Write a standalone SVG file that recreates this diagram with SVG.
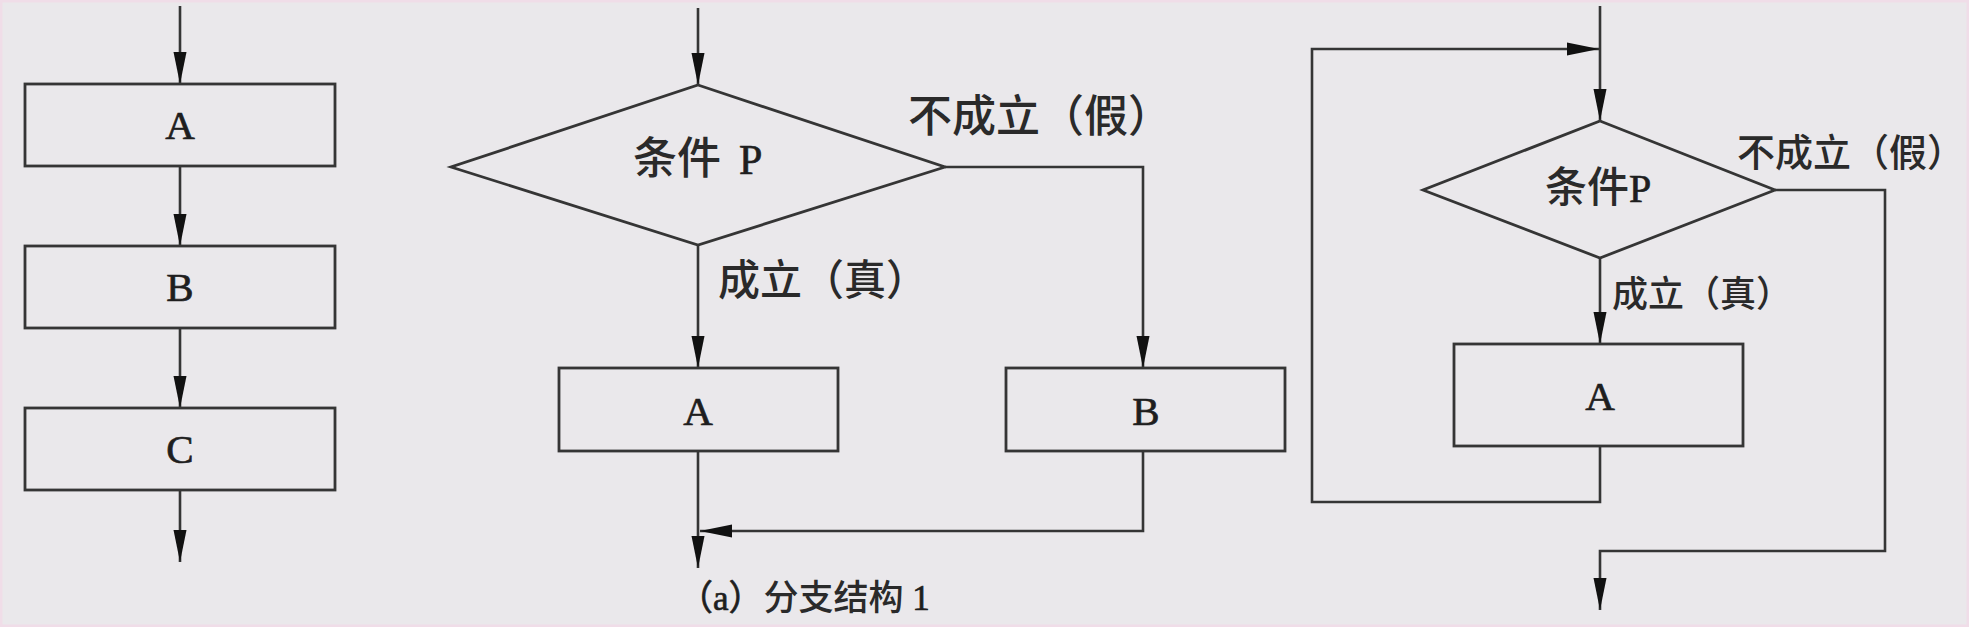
<svg xmlns="http://www.w3.org/2000/svg" width="1969" height="627" viewBox="0 0 1969 627">
<style>
.bg{fill:#eae8eb}
.box{fill:none;stroke:#353535;stroke-width:2.8}
.ln{fill:none;stroke:#353535;stroke-width:2.6}
.lt{font-family:"Liberation Serif","Noto Sans CJK SC",serif;fill:#1e1e1e;stroke:#1e1e1e;stroke-width:0.7}
.cj{font-family:"Noto Sans CJK SC","Liberation Serif",sans-serif;fill:#2a2a2a;font-weight:500;stroke:none}
</style>
<defs>
<marker id="ah" markerUnits="userSpaceOnUse" markerWidth="34" markerHeight="16" refX="32" refY="7" orient="auto">
<path d="M0,0.5 L32,7 L0,13.5 Z" fill="#111"/>
</marker>
</defs>
<rect class="bg" x="0" y="0" width="1969" height="627"/>
<rect x="1" y="1" width="1967" height="625" fill="none" stroke="#f0dde8" stroke-width="3"/>

<g id="connectors">
<path class="ln" d="M180,6 L180,84" marker-end="url(#ah)"/>
<path class="ln" d="M180,166 L180,246" marker-end="url(#ah)"/>
<path class="ln" d="M180,328 L180,408" marker-end="url(#ah)"/>
<path class="ln" d="M180,490 L180,562" marker-end="url(#ah)"/>
<path class="ln" d="M698,8 L698,85" marker-end="url(#ah)"/>
<path class="ln" d="M698,245 L698,368" marker-end="url(#ah)"/>
<path class="ln" d="M945,167 L1143,167 L1143,368" marker-end="url(#ah)"/>
<path class="ln" d="M1143,451 L1143,531 L700,531" marker-end="url(#ah)"/>
<path class="ln" d="M698,451 L698,568" marker-end="url(#ah)"/>
<path class="ln" d="M1600,6 L1600,121" marker-end="url(#ah)"/>
<path class="ln" d="M1600,258 L1600,344" marker-end="url(#ah)"/>
<path class="ln" d="M1600,446 L1600,502 L1312,502 L1312,49 L1599,49" marker-end="url(#ah)"/>
<path class="ln" d="M1775,190 L1885,190 L1885,551 L1600,551 L1600,610" marker-end="url(#ah)"/>
</g>

<g id="seqA">
<rect class="box" x="25" y="84" width="310" height="82"/>
<text class="lt" x="180" y="139" font-size="41" text-anchor="middle">A</text>
</g>
<g id="seqB">
<rect class="box" x="25" y="246" width="310" height="82"/>
<text class="lt" x="180" y="301" font-size="41" text-anchor="middle">B</text>
</g>
<g id="seqC">
<rect class="box" x="25" y="408" width="310" height="82"/>
<text class="lt" x="180" y="463" font-size="41" text-anchor="middle">C</text>
</g>

<g id="branchCond">
<polygon class="box" points="698,85 945,167 698,245 451,167"/>
<text class="cj" x="633" y="174" font-size="44">条件<tspan class="lt" x="739" font-size="42">P</tspan></text>
</g>
<g id="branchA">
<rect class="box" x="559" y="368" width="279" height="83"/>
<text class="lt" x="698" y="425" font-size="41" text-anchor="middle">A</text>
</g>
<g id="branchB">
<rect class="box" x="1006" y="368" width="279" height="83"/>
<text class="lt" x="1146" y="425" font-size="41" text-anchor="middle">B</text>
</g>
<g id="branchLabels">
<text class="cj" x="908" y="132" font-size="44">不成立（假）</text>
<text class="cj" x="718" y="295" font-size="42">成立（真）</text>
<text class="lt" x="678" y="610" font-size="35">（a）<tspan class="cj">分支结构</tspan> 1</text>
</g>

<g id="loopCond">
<polygon class="box" points="1600,121 1775,190 1600,258 1423,190"/>
<text class="cj" x="1545" y="202" font-size="42">条件<tspan class="lt" font-size="40">P</tspan></text>
</g>
<g id="loopA">
<rect class="box" x="1454" y="344" width="289" height="102"/>
<text class="lt" x="1600" y="410" font-size="41" text-anchor="middle">A</text>
</g>
<g id="loopLabels">
<text class="cj" x="1737" y="166" font-size="38">不成立（假）</text>
<text class="cj" x="1612" y="307" font-size="36">成立（真）</text>
</g>
</svg>
